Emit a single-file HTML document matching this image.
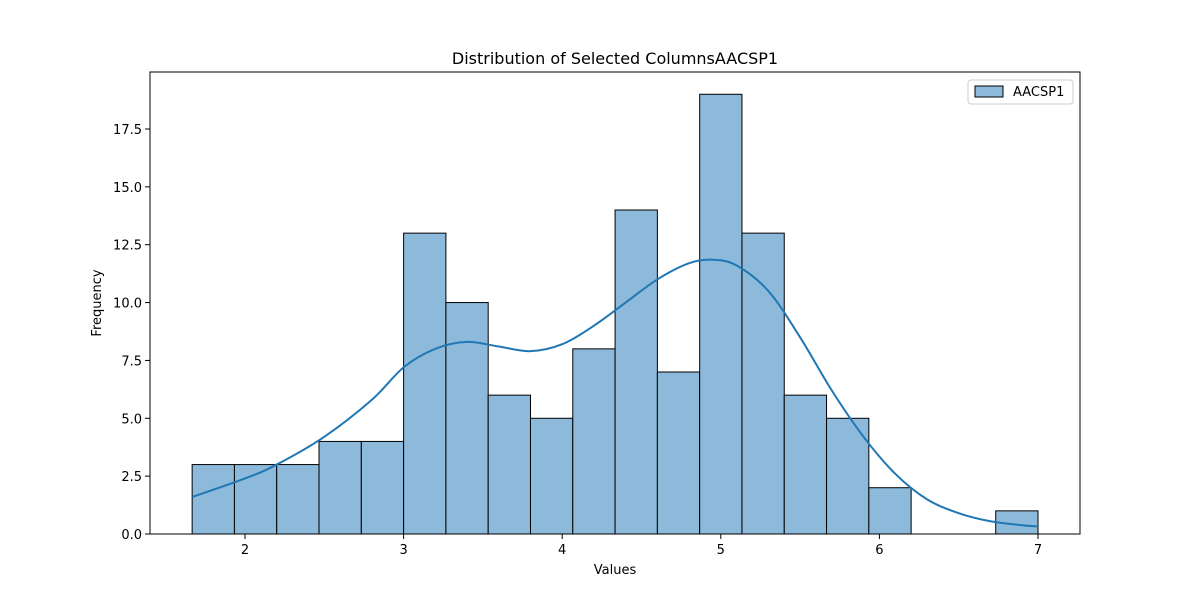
<!DOCTYPE html>
<html><head><meta charset="utf-8"><style>
body{margin:0;background:#fff;}
text{font-family:"DejaVu Sans","Liberation Sans",sans-serif;fill:#000;}
</style></head><body>
<svg id="c" width="1200" height="600" xmlns="http://www.w3.org/2000/svg"></svg>
<script>
const binStart = 1.6667, binWidth = 0.26667;
const counts = [3,3,3,4,4,13,10,6,5,8,14,7,19,13,6,5,2,0,0,1];
const kdeX = [1.667,2.0,2.2,2.5,2.8,3.0,3.2,3.4,3.6,3.8,4.0,4.2,4.4,4.6,4.8,4.95,5.1,5.3,5.5,5.7,5.9,6.1,6.3,6.5,6.7,6.9,7.0];
const kdeY = [1.6,2.4,3.0,4.2,5.8,7.2,8.0,8.3,8.1,7.9,8.2,9.0,10.0,11.0,11.7,11.85,11.6,10.5,8.5,6.2,4.2,2.6,1.5,0.9,0.55,0.38,0.33];
const xTicks = [2,3,4,5,6,7];
const yTicks = [0,2.5,5,7.5,10,12.5,15,17.5];
const yTickLabels = ["0.0","2.5","5.0","7.5","10.0","12.5","15.0","17.5"];

const L=150,R=1080,T=72,B=534;
const xs=v=>245+(v-2)*158.6;
const ys=v=>534-v*23.143;
const svg=document.getElementById('c');
const NS='http://www.w3.org/2000/svg';
function mk(t,a,p){const e=document.createElementNS(NS,t);for(const k in a)e.setAttribute(k,a[k]);(p||svg).appendChild(e);return e;}

let tt=mk('text',{x:615,y:64,'text-anchor':'middle','font-size':16});


tt.textContent='Distribution of Selected ColumnsAACSP1';

counts.forEach((c,i)=>{
  if(c<=0)return;
  const x0=xs(binStart+i*binWidth),x1=xs(binStart+(i+1)*binWidth);
  const r=mk('rect',{x:x0,y:ys(c),width:x1-x0,height:ys(0)-ys(c),fill:'#8db9da',stroke:'#000','stroke-width':1});
  
  
});

let d='';
for(let i=0;i<kdeX.length;i++){
  const p0=kdeX[Math.max(i-1,0)],p1=kdeX[i];
  if(i===0){d+='M'+xs(p1)+','+ys(kdeY[0]);continue;}
  const a=i-2<0?0:i-2,b=i-1,c=i,e=Math.min(i+1,kdeX.length-1);
  const c1x=xs(kdeX[b])+(xs(kdeX[c])-xs(kdeX[a]))/6,c1y=ys(kdeY[b])+(ys(kdeY[c])-ys(kdeY[a]))/6;
  const c2x=xs(kdeX[c])-(xs(kdeX[e])-xs(kdeX[b]))/6,c2y=ys(kdeY[c])-(ys(kdeY[e])-ys(kdeY[b]))/6;
  d+=' C'+c1x+','+c1y+' '+c2x+','+c2y+' '+xs(kdeX[c])+','+ys(kdeY[c]);
}
const kl=mk('path',{d:d,fill:'none',stroke:'#1f77b4','stroke-width':2});



const fr=mk('rect',{x:L,y:T,width:R-L,height:B-T,fill:'none',stroke:'#000','stroke-width':1});



xTicks.forEach(v=>{
  mk('line',{x1:xs(v),x2:xs(v),y1:B,y2:B+5,stroke:'#000'});
  const t=mk('text',{x:xs(v),y:B+20,'text-anchor':'middle','font-size':13});
  
  
  t.textContent=v;
});
yTicks.forEach((v,i)=>{
  mk('line',{x1:L-5,x2:L,y1:ys(v),y2:ys(v),stroke:'#000'});
  const t=mk('text',{x:L-8,y:ys(v)+5,'text-anchor':'end','font-size':13});
  
  
  t.textContent=yTickLabels[i];
});
let xl=mk('text',{x:615,y:574,'text-anchor':'middle','font-size':13});


xl.textContent='Values';
let yl=mk('text',{x:101,y:303,'text-anchor':'middle','font-size':13,transform:'rotate(-90 101 303)'});


yl.textContent='Frequency';

const lg=mk('g',{});


mk('rect',{x:968,y:80,width:105,height:24,rx:3,fill:'#fff',stroke:'#ccc'},lg);
mk('rect',{x:975,y:86,width:28,height:11,fill:'#8db9da',stroke:'#000'},lg);
const lt=mk('text',{x:1013,y:96,'font-size':13},lg);


lt.textContent='AACSP1';
</script>
</body></html>
